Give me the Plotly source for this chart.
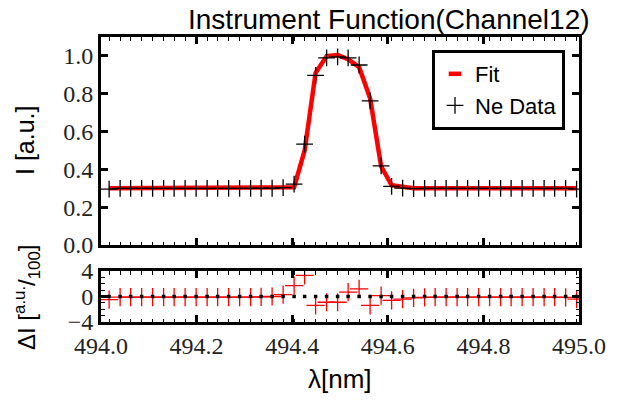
import plotly.graph_objects as go

# ---------------- data ----------------
wavelength = [494.017, 494.040, 494.062, 494.085, 494.108, 494.131, 494.153, 494.176,
              494.199, 494.222, 494.244, 494.267, 494.290, 494.313, 494.335, 494.358,
              494.381, 494.404, 494.426, 494.449, 494.472, 494.495, 494.517, 494.540,
              494.563, 494.586, 494.608, 494.631, 494.654, 494.677, 494.699, 494.722,
              494.745, 494.767, 494.790, 494.813, 494.836, 494.858, 494.881, 494.904,
              494.927, 494.949, 494.972, 494.995]

ne_data = [0.295, 0.299, 0.299, 0.299, 0.299, 0.299, 0.299, 0.299,
           0.299, 0.299, 0.299, 0.299, 0.299, 0.299, 0.300, 0.300,
           0.303, 0.322, 0.533, 0.897, 0.990, 0.995, 0.990, 0.952,
           0.762, 0.418, 0.310, 0.301, 0.298, 0.299, 0.299, 0.299,
           0.299, 0.299, 0.299, 0.299, 0.299, 0.299, 0.299, 0.299,
           0.299, 0.299, 0.299, 0.296]

fit = [0.300, 0.300, 0.300, 0.300, 0.300, 0.300, 0.300, 0.300,
       0.300, 0.300, 0.300, 0.300, 0.300, 0.300, 0.300, 0.300,
       0.300, 0.305, 0.500, 0.911, 0.999, 1.004, 0.983, 0.940,
       0.776, 0.416, 0.316, 0.305, 0.300, 0.300, 0.300, 0.300,
       0.300, 0.300, 0.300, 0.300, 0.300, 0.300, 0.300, 0.300,
       0.300, 0.300, 0.300, 0.300]

residual = [-0.5, -0.1, -0.1, -0.1, -0.1, -0.1, -0.1, -0.1,
            -0.1, -0.1, -0.1, -0.1, -0.1, -0.1, -0.05, 0.0,
            0.3, 1.7, 3.3, -1.4, -0.9, -0.9, 0.7, 1.2,
            -1.4, 0.15, -0.6, -0.4, -0.2, -0.15, -0.1, -0.1,
            -0.1, -0.1, -0.1, -0.1, -0.1, -0.1, -0.1, -0.1,
            -0.1, -0.1, -0.15, -0.4]

zero_level = [0.0 for _ in wavelength]

x_ticks = [494.0, 494.2, 494.4, 494.6, 494.8, 495.0]
y_ticks_top = [0.0, 0.2, 0.4, 0.6, 0.8, 1.0]
y_ticks_res = [-4, 0, 4]

# ---------------- styling ----------------
SANS = "Liberation Sans"
SERIF = "Liberation Serif"
TICKFONT = dict(family=SERIF, size=24, color="#222222")

W, H = 624, 402
ML, MR, MT, MB = 101, 45, 37, 80
plot_h = H - MT - MB


def py(pix):
    """pixel row -> paper fraction (within plot area)"""
    return (H - MB - pix) / plot_h


def px(pix):
    return (pix - ML) / (W - ML - MR)


fig = go.Figure()

fig.add_trace(go.Scatter(
    x=wavelength, y=fit, mode="lines", name="Fit", showlegend=False,
    line=dict(color="red", width=4.5), xaxis="x", yaxis="y"))
# legend-only entry with a short red dash, as in the reference
fig.add_trace(go.Scatter(
    x=[None], y=[None], mode="markers", name="Fit",
    marker=dict(symbol="line-ew-open", size=9, color="red",
                line=dict(color="red", width=4.5)),
    xaxis="x", yaxis="y"))
fig.add_trace(go.Scatter(
    x=wavelength, y=ne_data, mode="markers", name="Ne Data",
    marker=dict(symbol="cross-thin-open", size=12, color="black",
                line=dict(color="black", width=1.3)),
    xaxis="x", yaxis="y"))

fig.add_trace(go.Scatter(
    x=wavelength, y=residual, mode="markers", showlegend=False,
    marker=dict(symbol="cross-thin-open", size=13, color="red",
                line=dict(color="red", width=1.3)),
    xaxis="x2", yaxis="y2"))
fig.add_trace(go.Scatter(
    x=wavelength, y=zero_level, mode="markers", showlegend=False,
    marker=dict(symbol="square", size=3.5, color="black", line=dict(width=0)),
    xaxis="x2", yaxis="y2"))

axis_common = dict(showline=True, linecolor="black", linewidth=3, mirror="allticks",
                   ticks="inside", tickcolor="black", tickwidth=2.5, ticklen=7,
                   showgrid=False, zeroline=False, tickfont=TICKFONT)

xminor = dict(tickmode="array", tickvals=wavelength, ticks="inside", ticklen=3.5,
              tickwidth=1, tickcolor="black", showgrid=False)

top_bottom = py(245)
res_top = py(271)

fig.update_layout(
    template="none",
    width=W, height=H,
    margin=dict(l=ML, r=MR, t=MT, b=MB),
    paper_bgcolor="white", plot_bgcolor="white",
    font=dict(family=SERIF, size=24, color="#222222"),
    xaxis=dict(domain=[0, 1], range=[494.0, 495.0], anchor="y",
               tickvals=x_ticks, showticklabels=False, minor=xminor, **axis_common),
    yaxis=dict(domain=[top_bottom, 1], range=[0, 1.1], anchor="x",
               tickvals=y_ticks_top, tickformat=".1f", **axis_common),
    xaxis2=dict(domain=[0, 1], range=[494.0, 495.0], anchor="y2",
                tickvals=x_ticks, tickformat=".1f", minor=xminor, **axis_common),
    yaxis2=dict(domain=[0, res_top], range=[-4, 4], anchor="x2",
                tickvals=y_ticks_res,
                minor=dict(dtick=1, ticks="inside", ticklen=3.5, tickwidth=1,
                           tickcolor="black", showgrid=False),
                **axis_common),
    showlegend=True,
    legend=dict(x=px(565), xanchor="right", y=py(50), yanchor="top",
                bgcolor="white", bordercolor="black", borderwidth=3,
                font=dict(family=SANS, size=22, color="black"),
                itemwidth=30, tracegroupgap=0),
    annotations=[
        dict(text="Instrument Function(Channel12)", xref="paper", yref="paper",
             x=px(389), y=py(19), xanchor="center", yanchor="middle",
             showarrow=False, font=dict(family=SANS, size=28, color="black")),
        dict(text="I [a.u.]", xref="paper", yref="paper",
             x=px(25), y=py(141), xanchor="center", yanchor="middle",
             textangle=-90, showarrow=False,
             font=dict(family=SANS, size=25, color="black")),
        dict(text="ΔI [<sup>a.u.</sup>/<sub>100</sub>]", xref="paper", yref="paper",
             x=px(27), y=py(298), xanchor="center", yanchor="middle",
             textangle=-90, showarrow=False,
             font=dict(family=SANS, size=24, color="black")),
        dict(text="λ[nm]", xref="paper", yref="paper",
             x=px(340), y=py(379), xanchor="center", yanchor="middle",
             showarrow=False, font=dict(family=SANS, size=26, color="black")),
    ],
)

fig.write_html("out.html")
